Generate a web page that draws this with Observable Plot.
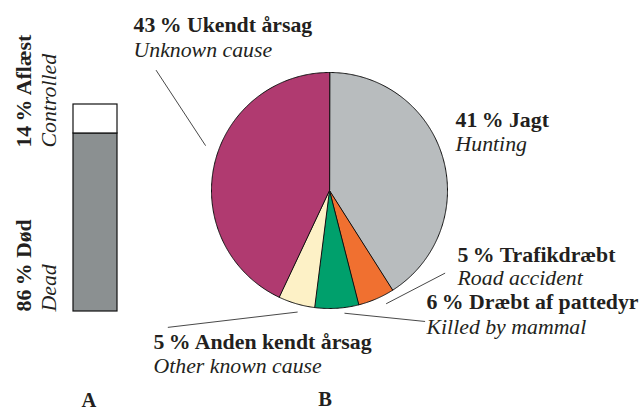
<!DOCTYPE html>
<html><head><meta charset="utf-8">
<script src="https://cdn.jsdelivr.net/npm/d3@7"></script>
<script src="https://cdn.jsdelivr.net/npm/@observablehq/plot@0.6"></script>
<style>
body{margin:0;background:#fff;}
#wrap{position:relative;width:640px;height:410px;}
#wrap svg{position:absolute;left:0;top:0;overflow:visible;background:transparent;}
</style></head><body><div id="wrap"></div>
<script>
// ---- data ----
const fateLabels = ["Død", "Aflæst"];
const fateEnglish = ["Dead", "Controlled"];
const fateShares = [86, 14];

const causeLabels = ["Jagt", "Trafikdræbt", "Dræbt af pattedyr", "Anden kendt årsag", "Ukendt årsag"];
const causeEnglish = ["Hunting", "Road accident", "Killed by mammal", "Other known cause", "Unknown cause"];
const causeShares = [41, 5, 6, 5, 43];

const panelLabels = ["A", "B"];

// ---- style / layout ----
const FONT = "'Liberation Serif', 'DejaVu Serif', serif";
const INK = "#231f20";
const fateColors = ["#8b9091", "#ffffff"];
const causeColors = ["#b8bcbe", "#f07030", "#00a06c", "#fdf1c6", "#b03a70"];
const BOLD = 21.8, ITAL = 21.8, PANEL = 20.5;
const R_PX = 118; // pie radius in px (for converting line offsets)

// label layout for bar (y in percent scale)
const fateLabelY = [0, 79.2];
// label layout for pie (unit-circle coordinates), italic line offset in px
const causeLayout = [
  {lx: 1.068, ly: 0.534, gap: 24, leader: null},
  {lx: 1.085, ly: -0.602, gap: 23, leader: [0.48, -0.96, 0.98, -0.70]},
  {lx: 0.822, ly: -1.0, gap: 25, leader: [0.127, -1.04, 0.81, -1.11]},
  {lx: -1.492, ly: -1.339, gap: 24, leader: [-0.27, -1.03, -1.37, -1.16]},
  {lx: -1.661, ly: 1.339, gap: 25, leader: [-1.05, 0.38, -1.47, 1.02]}
];
const panelBLabelPos = {x: -0.038, y: -1.83};

// ---- panel A: stacked bar ----
const fate = fateLabels.map((l, i) => ({panel: panelLabels[0], label: l, en: fateEnglish[i], share: fateShares[i], ly: fateLabelY[i]}));

const plotA = Plot.plot({
  width: 640, height: 410,
  marginLeft: 73, marginRight: 523, marginTop: 104, marginBottom: 99,
  style: {background: "transparent", fontFamily: FONT},
  x: {domain: [panelLabels[0]], padding: 0, axis: null},
  y: {domain: [0, 100], axis: null},
  color: {domain: fateLabels, range: fateColors},
  marks: [
    Plot.barY(fate, {x: "panel", y: "share", fill: "label", stroke: "#111", strokeWidth: 1.2}),
    Plot.text(fate, {x: "panel", y: "ly", text: d => `${d.share}\u2009% ${d.label}`, rotate: -90, dx: -65,
      textAnchor: "start", lineAnchor: "bottom", fontWeight: "bold", fontSize: BOLD, fill: INK, fontFamily: FONT}),
    Plot.text(fate, {x: "panel", y: "ly", text: "en", rotate: -90, dx: -40,
      textAnchor: "start", lineAnchor: "bottom", fontStyle: "italic", fontSize: ITAL, fill: INK, fontFamily: FONT}),
    Plot.text([panelLabels[0]], {x: d => d, frameAnchor: "bottom", dx: -6.5, dy: 95, lineAnchor: "bottom",
      fontWeight: "bold", fontSize: PANEL, fill: INK, fontFamily: FONT})
  ]
});

// ---- panel B: pie ----
const causes = causeLabels.map((l, i) => ({label: l, en: causeEnglish[i], share: causeShares[i], ...causeLayout[i]}));
const arcs = d3.pie().sort(null).value(d => d.share).startAngle(0).endAngle(2 * Math.PI)(causes);
const polys = arcs.flatMap(a => {
  const pts = [{x: 0, y: 0, label: a.data.label}];
  const n = Math.max(2, Math.ceil((a.endAngle - a.startAngle) / 0.01));
  for (let i = 0; i <= n; i++) {
    const t = a.startAngle + (a.endAngle - a.startAngle) * i / n;
    pts.push({x: Math.sin(t), y: Math.cos(t), label: a.data.label});
  }
  return pts;
});
const leaders = causes.filter(d => d.leader).map(d => ({x1: d.leader[0], y1: d.leader[1], x2: d.leader[2], y2: d.leader[3]}));

const plotB = Plot.plot({
  width: 640, height: 410,
  style: {background: "transparent", fontFamily: FONT},
  x: {domain: [-1, 1], range: [211, 447], axis: null},
  y: {domain: [-1, 1], range: [308, 72], axis: null},
  color: {domain: causeLabels, range: causeColors},
  marks: [
    Plot.line(polys, {x: "x", y: "y", z: "label", fill: "label", stroke: "#111", strokeWidth: 1, curve: "linear-closed"}),
    Plot.link(leaders, {x1: "x1", y1: "y1", x2: "x2", y2: "y2", stroke: "#333", strokeWidth: 0.9}),
    Plot.text(causes, {x: "lx", y: "ly", text: d => `${d.share}\u2009% ${d.label}`, textAnchor: "start", lineAnchor: "bottom",
      fontWeight: "bold", fontSize: BOLD, fill: INK, fontFamily: FONT}),
    Plot.text(causes, {x: "lx", y: d => d.ly - d.gap / R_PX, text: "en", textAnchor: "start", lineAnchor: "bottom",
      fontStyle: "italic", fontSize: ITAL, fill: INK, fontFamily: FONT}),
    Plot.text([panelLabels[1]], {x: () => panelBLabelPos.x, y: () => panelBLabelPos.y, text: d => d, lineAnchor: "bottom",
      fontWeight: "bold", fontSize: PANEL, fill: INK, fontFamily: FONT})
  ]
});

const wrap = document.getElementById("wrap");
wrap.appendChild(plotA);
wrap.appendChild(plotB);
</script>
</body></html>
